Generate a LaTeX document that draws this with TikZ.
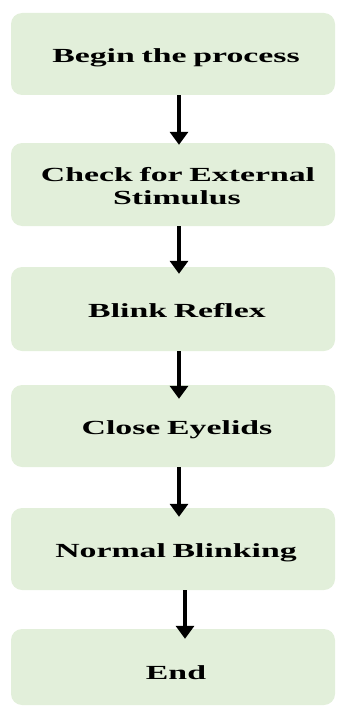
\documentclass[tikz,border=0pt]{standalone}
\usepackage{fontspec}
\setmainfont{Liberation Serif}[FakeStretch=1.69]
\usetikzlibrary{arrows.meta}
\definecolor{boxgreen}{RGB}{226,239,218}
\tikzset{
  stepbox/.style={fill=boxgreen, draw=none, rounded corners=11pt,
    minimum width=324pt, inner sep=0pt},
  lbl/.style={text width=320pt, align=center, inner sep=0pt,
    font=\fontsize{20}{23}\selectfont\bfseries, text=black},
  arr/.style={line width=3.7pt, -{Triangle[width=18pt,length=13pt]}}
}
\begin{document}
\begin{tikzpicture}[x=1pt,y=1pt]
\useasboundingbox (0,0) rectangle (339,-706);
\node[stepbox, minimum height=82pt] (b1) at (173,-54) {};
\node[stepbox, minimum height=83pt] (b2) at (173,-184.5) {};
\node[stepbox, minimum height=84pt] (b3) at (173,-309) {};
\node[stepbox, minimum height=82pt] (b4) at (173,-426) {};
\node[stepbox, minimum height=82pt] (b5) at (173,-549) {};
\node[stepbox, minimum height=76pt] (b6) at (173,-667) {};
\node[lbl, anchor=base] (t1) at (176,-63) {Begin the process};
\node[lbl, anchor=base] (t2a) at (178,-181) {Check for External};
\node[lbl, anchor=base] (t2b) at (177,-204) {Stimulus};
\node[lbl, anchor=base] (t3) at (177,-317) {Blink Reflex};
\node[lbl, anchor=base] (t4) at (177,-434) {Close Eyelids};
\node[lbl, anchor=base] (t5) at (176,-557.5) {Normal Blinking};
\node[lbl, anchor=base] (t6) at (176,-679) {End};
\draw[arr, shorten >=-2pt] ([xshift=6pt]b1.south) -- ([xshift=6pt]b2.north);
\draw[arr, shorten >=-7pt] ([xshift=6pt]b2.south) -- ([xshift=6pt]b3.north);
\draw[arr, shorten >=-14pt] ([xshift=6pt]b3.south) -- ([xshift=6pt]b4.north);
\draw[arr, shorten >=-9pt] ([xshift=6pt]b4.south) -- ([xshift=6pt]b5.north);
\draw[arr, shorten >=-10pt] ([xshift=12pt]b5.south) -- ([xshift=12pt]b6.north);
\end{tikzpicture}
\end{document}
